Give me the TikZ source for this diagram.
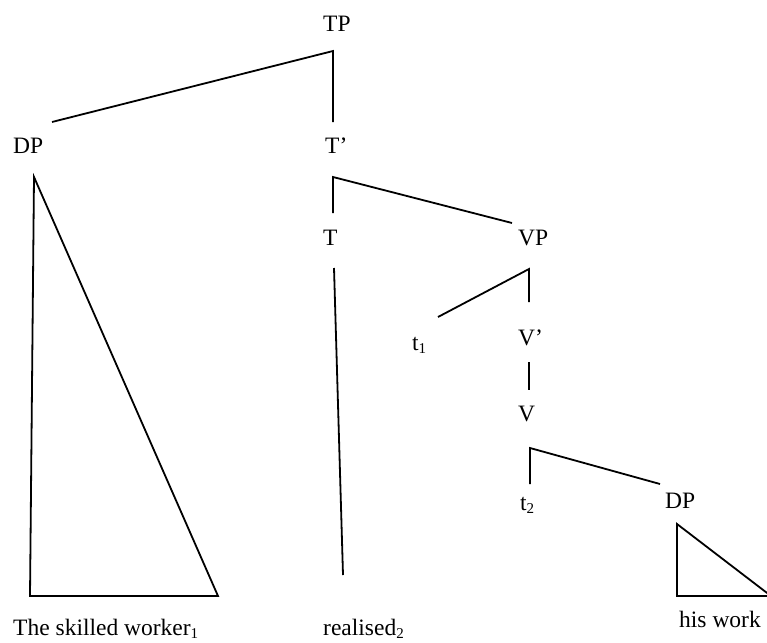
\documentclass[tikz,border=0pt]{standalone}
\usepackage{fontspec}
\setmainfont{Liberation Serif}
\usepackage{tikz}
\newcommand{\lowidx}[1]{\raisebox{-3pt}{\fontsize{15}{15}\selectfont #1}}

\begin{document}
\begin{tikzpicture}[
  x=1pt, y=-1pt,
  cat/.style={anchor=base west, inner sep=0pt, font=\fontsize{23.5}{26}\selectfont},
  branch/.style={line width=1.8pt, line join=miter}
]
  \useasboundingbox (0,0) rectangle (767,642);
  \clip (0,0) rectangle (767,642);
  % labels
  \node[cat] (TP) at (323,32) {TP};
  \node[cat] (DPsub) at (13,153) {DP};
  \node[cat] (Tbar) at (325,153) {T’};
  \node[cat] (T) at (323,245) {T};
  \node[cat] (VP) at (518,245) {VP};
  \node[cat] (t1) at (412,350) {t\lowidx{1}};
  \node[cat] (Vbar) at (518,345) {V’};
  \node[cat] (V) at (518,421) {V};
  \node[cat] (t2) at (520,510) {t\lowidx{2}};
  \node[cat] (DPobj) at (665,508) {DP};
  \node[cat] (worker) at (13,635) {The skilled worker\lowidx{1}};
  \node[cat] (realised) at (323,635) {realised\lowidx{2}};
  \node[cat] (work) at (679,627) {his work};
  % branch ends
  \coordinate (TPfork) at (333,51);
  \coordinate (TPleft) at (52,122);
  \coordinate (TPright) at (333,122);
  \coordinate (Tbarfork) at (333,177);
  \coordinate (Tbarleft) at (333,213);
  \coordinate (Tbarright) at (512,223);
  \coordinate (Ttop) at (334,268);
  \coordinate (Tbottom) at (343,575);
  \coordinate (VPfork) at (529,269);
  \coordinate (VPleft) at (438,317);
  \coordinate (VPright) at (529,302);
  \coordinate (Vbartop) at (529,362);
  \coordinate (Vbarbottom) at (529,390);
  \coordinate (Vfork) at (530,448);
  \coordinate (Vleft) at (530,484);
  \coordinate (Vright) at (660,484);
  % branches
  \draw[branch] (TPleft) -- (TPfork) -- (TPright);
  \draw[branch] (Tbarleft) -- (Tbarfork) -- (Tbarright);
  \draw[branch] (Ttop) -- (Tbottom);
  \draw[branch] (VPleft) -- (VPfork) -- (VPright);
  \draw[branch] (Vbartop) -- (Vbarbottom);
  \draw[branch] (Vleft) -- (Vfork) -- (Vright);
  % triangles
  \draw[branch] (34,177) -- (30,596) -- (218,596) -- cycle;
  \draw[branch] (677,524) -- (677,596) -- (771,596) -- cycle;
\end{tikzpicture}
\end{document}
